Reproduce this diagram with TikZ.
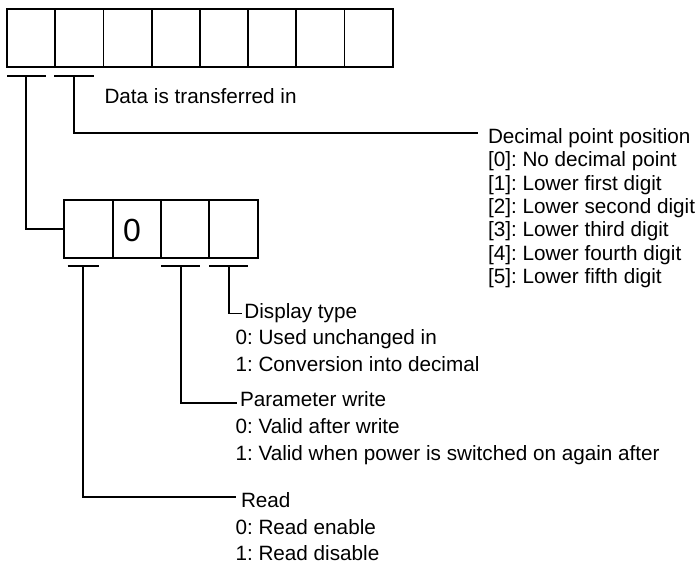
\documentclass[tikz,border=0pt]{standalone}
\usepackage{fontspec}
\setmainfont{Liberation Sans}
\frenchspacing
\begin{document}
\begin{tikzpicture}[x=1pt,y=-1pt,line width=1.8pt,
  cell/.style={draw,minimum width=48.2pt,minimum height=57.7pt,inner sep=0pt,outer sep=0pt,anchor=north west},
  lbl/.style={inner sep=0pt,outer sep=0pt,anchor=base west,font=\fontsize{20.7}{24}\selectfont},
  digit/.style={inner sep=0pt,font=\fontsize{32}{36}\selectfont},
  wire/.style={line width=1.8pt}]
\useasboundingbox (0,0) rectangle (699,565);
% top row of eight cells
\foreach \i in {1,...,8}
  \node[cell] (t\i) at ({7+(\i-1)*48.2},9) {};
% second row of four cells
\foreach \i in {1,...,4}
  \node[cell,minimum width=48.35pt] (b\i) at ({64.3+(\i-1)*48.35},200) {};
\node[digit] (zero) at (132,230) {0};
% texts
\node[lbl] (data) at (104.5,103.3) {Data is transferred in};
\node[lbl] (dec) at (488,143) {Decimal point position};
\node[lbl] (dec0) at (488,166.7) {[0]: No decimal point};
\node[lbl] (dec1) at (488,190) {[1]: Lower first digit};
\node[lbl] (dec2) at (488,213.3) {[2]: Lower second digit};
\node[lbl] (dec3) at (488,236.7) {[3]: Lower third digit};
\node[lbl] (dec4) at (488,260) {[4]: Lower fourth digit};
\node[lbl] (dec5) at (488,283.3) {[5]: Lower fifth digit};
\node[lbl] (disp) at (244.4,318) {Display type};
\node[lbl] (disp0) at (235.5,344.7) {0: Used unchanged in};
\node[lbl] (disp1) at (235.5,371.3) {1: Conversion into decimal};
\node[lbl] (par) at (240,406.7) {Parameter write};
\node[lbl] (par0) at (235.5,433.3) {0: Valid after write};
\node[lbl] (par1) at (235.5,460) {1: Valid when power is switched on again after};
\node[lbl] (rd) at (241,507.5) {Read};
\node[lbl] (rd0) at (235.5,534) {0: Read enable};
\node[lbl] (rd1) at (235.5,560.3) {1: Read disable};
% tick bars and their anchor points
\coordinate (ta) at (26,75.7);
\coordinate (tb) at (74,75.7);
\coordinate (tc) at (83.3,265.7);
\coordinate (td) at (180.7,265.7);
\coordinate (te) at (229.3,265.7);
\draw[wire] (7,75.7) -- (46,75.7);
\draw[wire] (54,75.7) -- (94,75.7);
\draw[wire] (67.7,265.7) -- (99,265.7);
\draw[wire] (161,265.7) -- (200,265.7);
\draw[wire] (209.3,265.7) -- (247.7,265.7);
% end points of the leaders
\coordinate (decEnd) at (478,133.3);
\coordinate (dispEnd) at (242,313.5);
\coordinate (parEnd) at (237,402.7);
\coordinate (rdEnd) at (236,497.3);
% connectors
\draw[wire] (ta) |- (b1.west);
\draw[wire] (tb) |- (decEnd);
\draw[wire] (te) |- (dispEnd);
\draw[wire] (td) |- (parEnd);
\draw[wire] (tc) |- (rdEnd);
\end{tikzpicture}
\end{document}
